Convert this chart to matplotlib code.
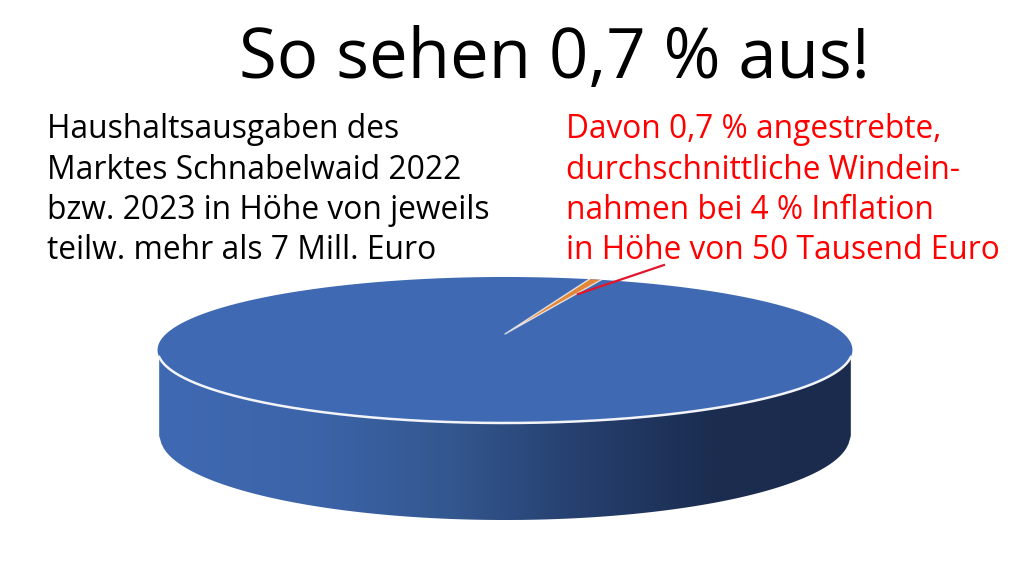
"""3D pie: share of wind income in the municipal budget (0,7 %)."""
import matplotlib.pyplot as plt
import numpy as np
from matplotlib.colors import LinearSegmentedColormap
from matplotlib.patches import Polygon

plt.rcParams["font.family"] = ["Open Sans", "DejaVu Sans"]

TITLE = "So sehen 0,7 % aus!"
LEFT_LINES = ["Haushaltsausgaben des", "Marktes Schnabelwaid 2022",
              "bzw. 2023 in Höhe von jeweils", "teilw. mehr als 7 Mill. Euro"]
RED_LINES = ["Davon 0,7 % angestrebte,", "durchschnittliche Windein-",
             "nahmen bei 4 % Inflation", "in Höhe von 50 Tausend Euro"]
SHARES = [99.3, 0.7]  # percent: budget, wind income
SLICE_COLORS = ["#3f69b2", "#e0873a"]
START_DEG = 17.5  # where the small slice starts, clockwise from the back

# pie geometry in image pixels
CX, CY = 505, 334
A, B, K = 339, 69.5, 0.219
DEPTH_CY, DEPTH_A, DEPTH_B = 436, 345, 84


def project(theta):
    """Disc angle (deg, clockwise from the back) to perspective pixels."""
    t = np.deg2rad(theta)
    u, v = np.sin(t), np.cos(t)
    w = 1 + K * v
    return CX + A * u / w, CY - B * v / w


fig = plt.figure(figsize=(10.24, 5.85), dpi=100)
ax = fig.add_axes([0, 0, 1, 1])
ax.set_xlim(0, 1024)
ax.set_ylim(585, 0)
ax.axis("off")

# side wall with horizontal gradient
th = np.linspace(0, 360, 721)
x_top, y_top = project(th)
front = y_top >= 357
order = np.argsort(x_top[front])
xf, yf = x_top[front][order], y_top[front][order]
xb = np.linspace(xf[0], xf[-1], 300)
yb = DEPTH_CY + DEPTH_B * np.sqrt(np.clip(1 - ((xb - CX) / DEPTH_A) ** 2, 0, 1))
wall = Polygon(np.vstack([np.column_stack([xf, yf]),
                          np.column_stack([xb[::-1], yb[::-1]])]),
               closed=True, fc="none", ec="none")
ax.add_patch(wall)
cmap = LinearSegmentedColormap.from_list(
    "wall", [(0, "#3f69b2"), (0.22, "#3c64a9"), (0.42, "#33578f"),
             (0.62, "#253e6c"), (0.8, "#1b2d50"), (1, "#1b2b4d")])
img = ax.imshow(np.linspace(0, 1, 512)[None, :], cmap=cmap, aspect="auto",
                extent=[xf[0], xf[-1], 530, 340], zorder=1)
img.set_clip_path(wall)
ax.set_xlim(0, 1024)
ax.set_ylim(585, 0)

# top face, slices from the shares
ax.fill(x_top, y_top, color=SLICE_COLORS[0], lw=0, zorder=2)
ext = SHARES[1] / sum(SHARES) * 360
ths = np.linspace(START_DEG, START_DEG + ext, 12)
xs, ys = project(ths)
ax.fill(np.r_[CX, xs], np.r_[CY, ys], color=SLICE_COLORS[1], lw=0, zorder=3)
ax.plot(np.r_[xs[-1], CX, xs[0]], np.r_[ys[-1], CY, ys[0]], color="white",
        lw=1.0, alpha=0.75, zorder=4)

# white rim along the front
ax.plot(xf, yf, color="#f2f4f8", lw=1.8, zorder=4)

# leader
ax.plot([664, 578], [265, 294], color="#e2152b", lw=1.6, zorder=5)

# text
ax.text(554, 78, TITLE, fontsize=49.7, ha="center", va="baseline", color="black")
baselines = [138, 179, 219, 259]
for s, y in zip(LEFT_LINES, baselines):
    ax.text(47, y, s, fontsize=22.9, va="baseline", color="black")
for s, y in zip(RED_LINES, baselines):
    ax.text(566, y, s, fontsize=22.8, va="baseline", color="#ff0000")

fig.savefig("out.png", dpi=100)
